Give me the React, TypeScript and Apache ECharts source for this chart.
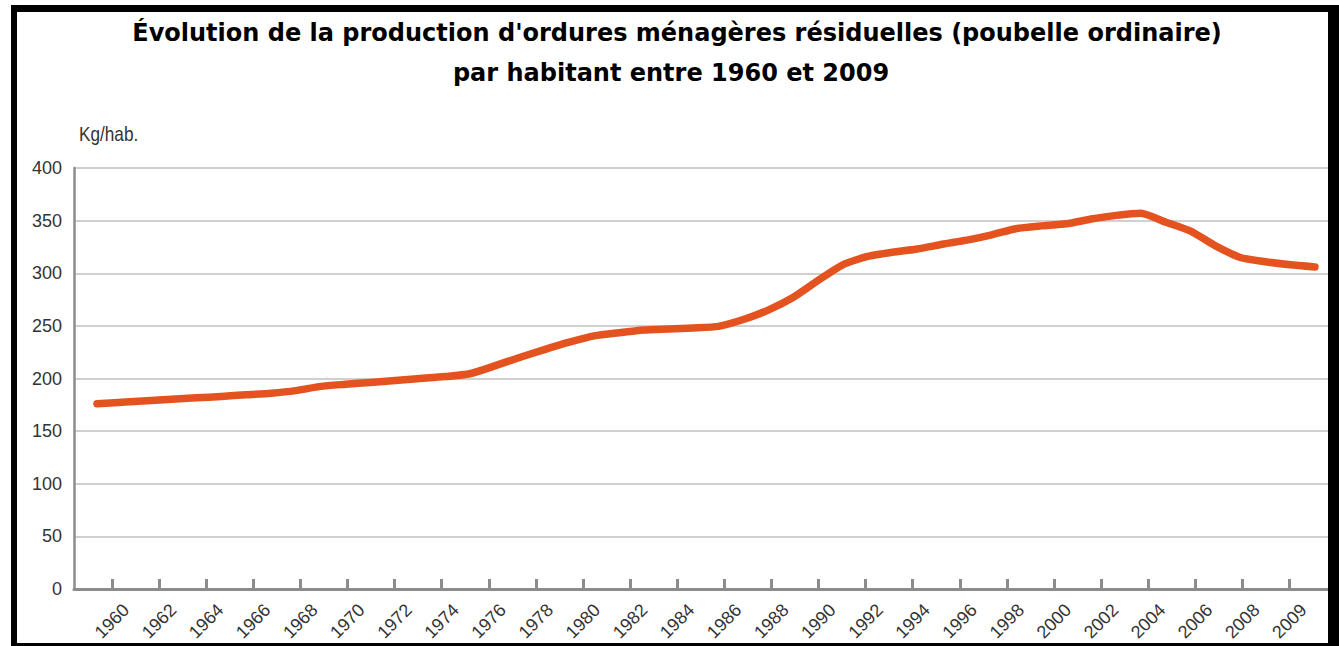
import React, { useEffect, useRef } from "react";
import * as echarts from "echarts";

const TITLE_1 = "Évolution de la production d'ordures ménagères résiduelles (poubelle ordinaire)";
const TITLE_2 = "par habitant entre 1960 et 2009";
const UNIT = "Kg/hab.";

const tickLabels = [
  "1960", "1962", "1964", "1966", "1968", "1970", "1972", "1974", "1976",
  "1978", "1980", "1982", "1984", "1986", "1988", "1990", "1992", "1994",
  "1996", "1998", "2000", "2002", "2004", "2006", "2008", "2009",
];

const years = [
  1960, 1961, 1962, 1963, 1964, 1965, 1966, 1967, 1968, 1969,
  1970, 1971, 1972, 1973, 1974, 1975, 1976, 1977, 1978, 1979,
  1980, 1981, 1982, 1983, 1984, 1985, 1986, 1987, 1988, 1989,
  1990, 1991, 1992, 1993, 1994, 1995, 1996, 1997, 1998, 1999,
  2000, 2001, 2002, 2003, 2004, 2005, 2006, 2007, 2008, 2009,
];

const kgPerHab = [
  176, 177.4, 178.8, 180.2, 181.6, 183, 184.5, 186, 188.5, 192.5,
  194.5, 196.3, 198.2, 200, 201.8, 204.5, 212, 220, 227.5, 234.5,
  240.5, 243.5, 246, 247, 248, 249.5, 256, 265, 277, 293,
  308, 316, 320, 323, 327.5, 331.5, 336.5, 342.5, 345, 347,
  351.5, 355, 357, 348.5, 340, 326, 315, 311, 308, 306,
];

const yTicks = [0, 50, 100, 150, 200, 250, 300, 350, 400];

export default function App() {
  const ref = useRef<HTMLDivElement>(null);
  useEffect(() => {
    if (!ref.current) return;
    const chart = echarts.init(ref.current, null, { renderer: "svg" });
    const idx = tickLabels.map((_, i) => i);
    const labelShift = 0.3;
    const font = "'Liberation Sans', Arial, sans-serif";
    const titleFont = "bold 24px 'DejaVu Sans', Verdana, sans-serif";
    chart.setOption({
      animation: false,
      backgroundColor: "#ffffff",
      grid: {
        left: 74,
        right: 6,
        top: 168,
        bottom: 57,
        containLabel: false,
        outerBoundsMode: "none",
      },
      xAxis: [
        {
          type: "value",
          position: "bottom",
          min: -0.8068,
          max: 25.924,
          axisLine: { show: true, onZero: false, lineStyle: { color: "#8c8c8c", width: 3 } },
          axisTick: {
            show: true,
            inside: true,
            length: 10,
            customValues: idx,
            lineStyle: { color: "#8c8c8c", width: 3 },
          },
          axisLabel: { show: false },
          splitLine: { show: false },
        },
        {
          type: "value",
          show: false,
          position: "bottom",
          min: 1959.0747,
          max: 2009.725,
          splitLine: { show: false },
        },
        {
          type: "value",
          position: "bottom",
          min: -0.8068,
          max: 25.924,
          axisLine: { show: false, onZero: false },
          axisTick: { show: false },
          splitLine: { show: false },
          axisLabel: {
            show: true,
            customValues: idx.map((i) => i + labelShift),
            rotate: 45,
            margin: 18,
            fontSize: 18,
            fontFamily: font,
            color: "#333333",
            formatter: (v: number) => tickLabels[Math.round(v)] ?? "",
          },
        },
      ],
      yAxis: {
        type: "value",
        min: yTicks[0],
        max: yTicks[yTicks.length - 1],
        interval: 50,
        axisLine: { show: true, onZero: false, lineStyle: { color: "#8c8c8c", width: 2.5 } },
        axisTick: { show: false },
        axisLabel: { margin: 12, fontSize: 18, fontFamily: font, color: "#333333" },
        splitLine: { show: true, lineStyle: { color: "#d0d0d0", width: 2 } },
      },
      series: [
        {
          type: "line",
          xAxisIndex: 1,
          data: years.map((y, i) => [y, kgPerHab[i]]),
          showSymbol: false,
          smooth: 0.2,
          lineStyle: { color: "#E4531F", width: 7.5, cap: "round", join: "round" },
          z: 5,
        },
      ],
      graphic: [
        {
          type: "text",
          x: 677,
          y: 33,
          style: {
            text: TITLE_1,
            font: titleFont,
            fill: "#000000",
            align: "center",
            verticalAlign: "middle",
          },
        },
        {
          type: "text",
          x: 671,
          y: 73,
          style: {
            text: TITLE_2,
            font: titleFont,
            fill: "#000000",
            align: "center",
            verticalAlign: "middle",
          },
        },
        {
          type: "text",
          x: 79,
          y: 134,
          scaleX: 0.86,
          style: {
            text: UNIT,
            font: "20px 'Liberation Sans', Arial, sans-serif",
            fill: "#333333",
            align: "left",
            verticalAlign: "middle",
          },
        },
        { type: "rect", shape: { x: 11, y: 5, width: 6, height: 641 }, style: { fill: "#000" }, z: 100 },
        { type: "rect", shape: { x: 11, y: 5, width: 1328, height: 7 }, style: { fill: "#000" }, z: 100 },
        { type: "rect", shape: { x: 1328, y: 5, width: 11, height: 641 }, style: { fill: "#000" }, z: 100 },
        { type: "rect", shape: { x: 11, y: 643, width: 1328, height: 3 }, style: { fill: "#000" }, z: 100 },
      ],
    });
    return () => chart.dispose();
  }, []);
  return (
    <div
      ref={ref}
      style={{ position: "fixed", left: 0, top: 0, width: 1339, height: 646, background: "#fff" }}
    />
  );
}
